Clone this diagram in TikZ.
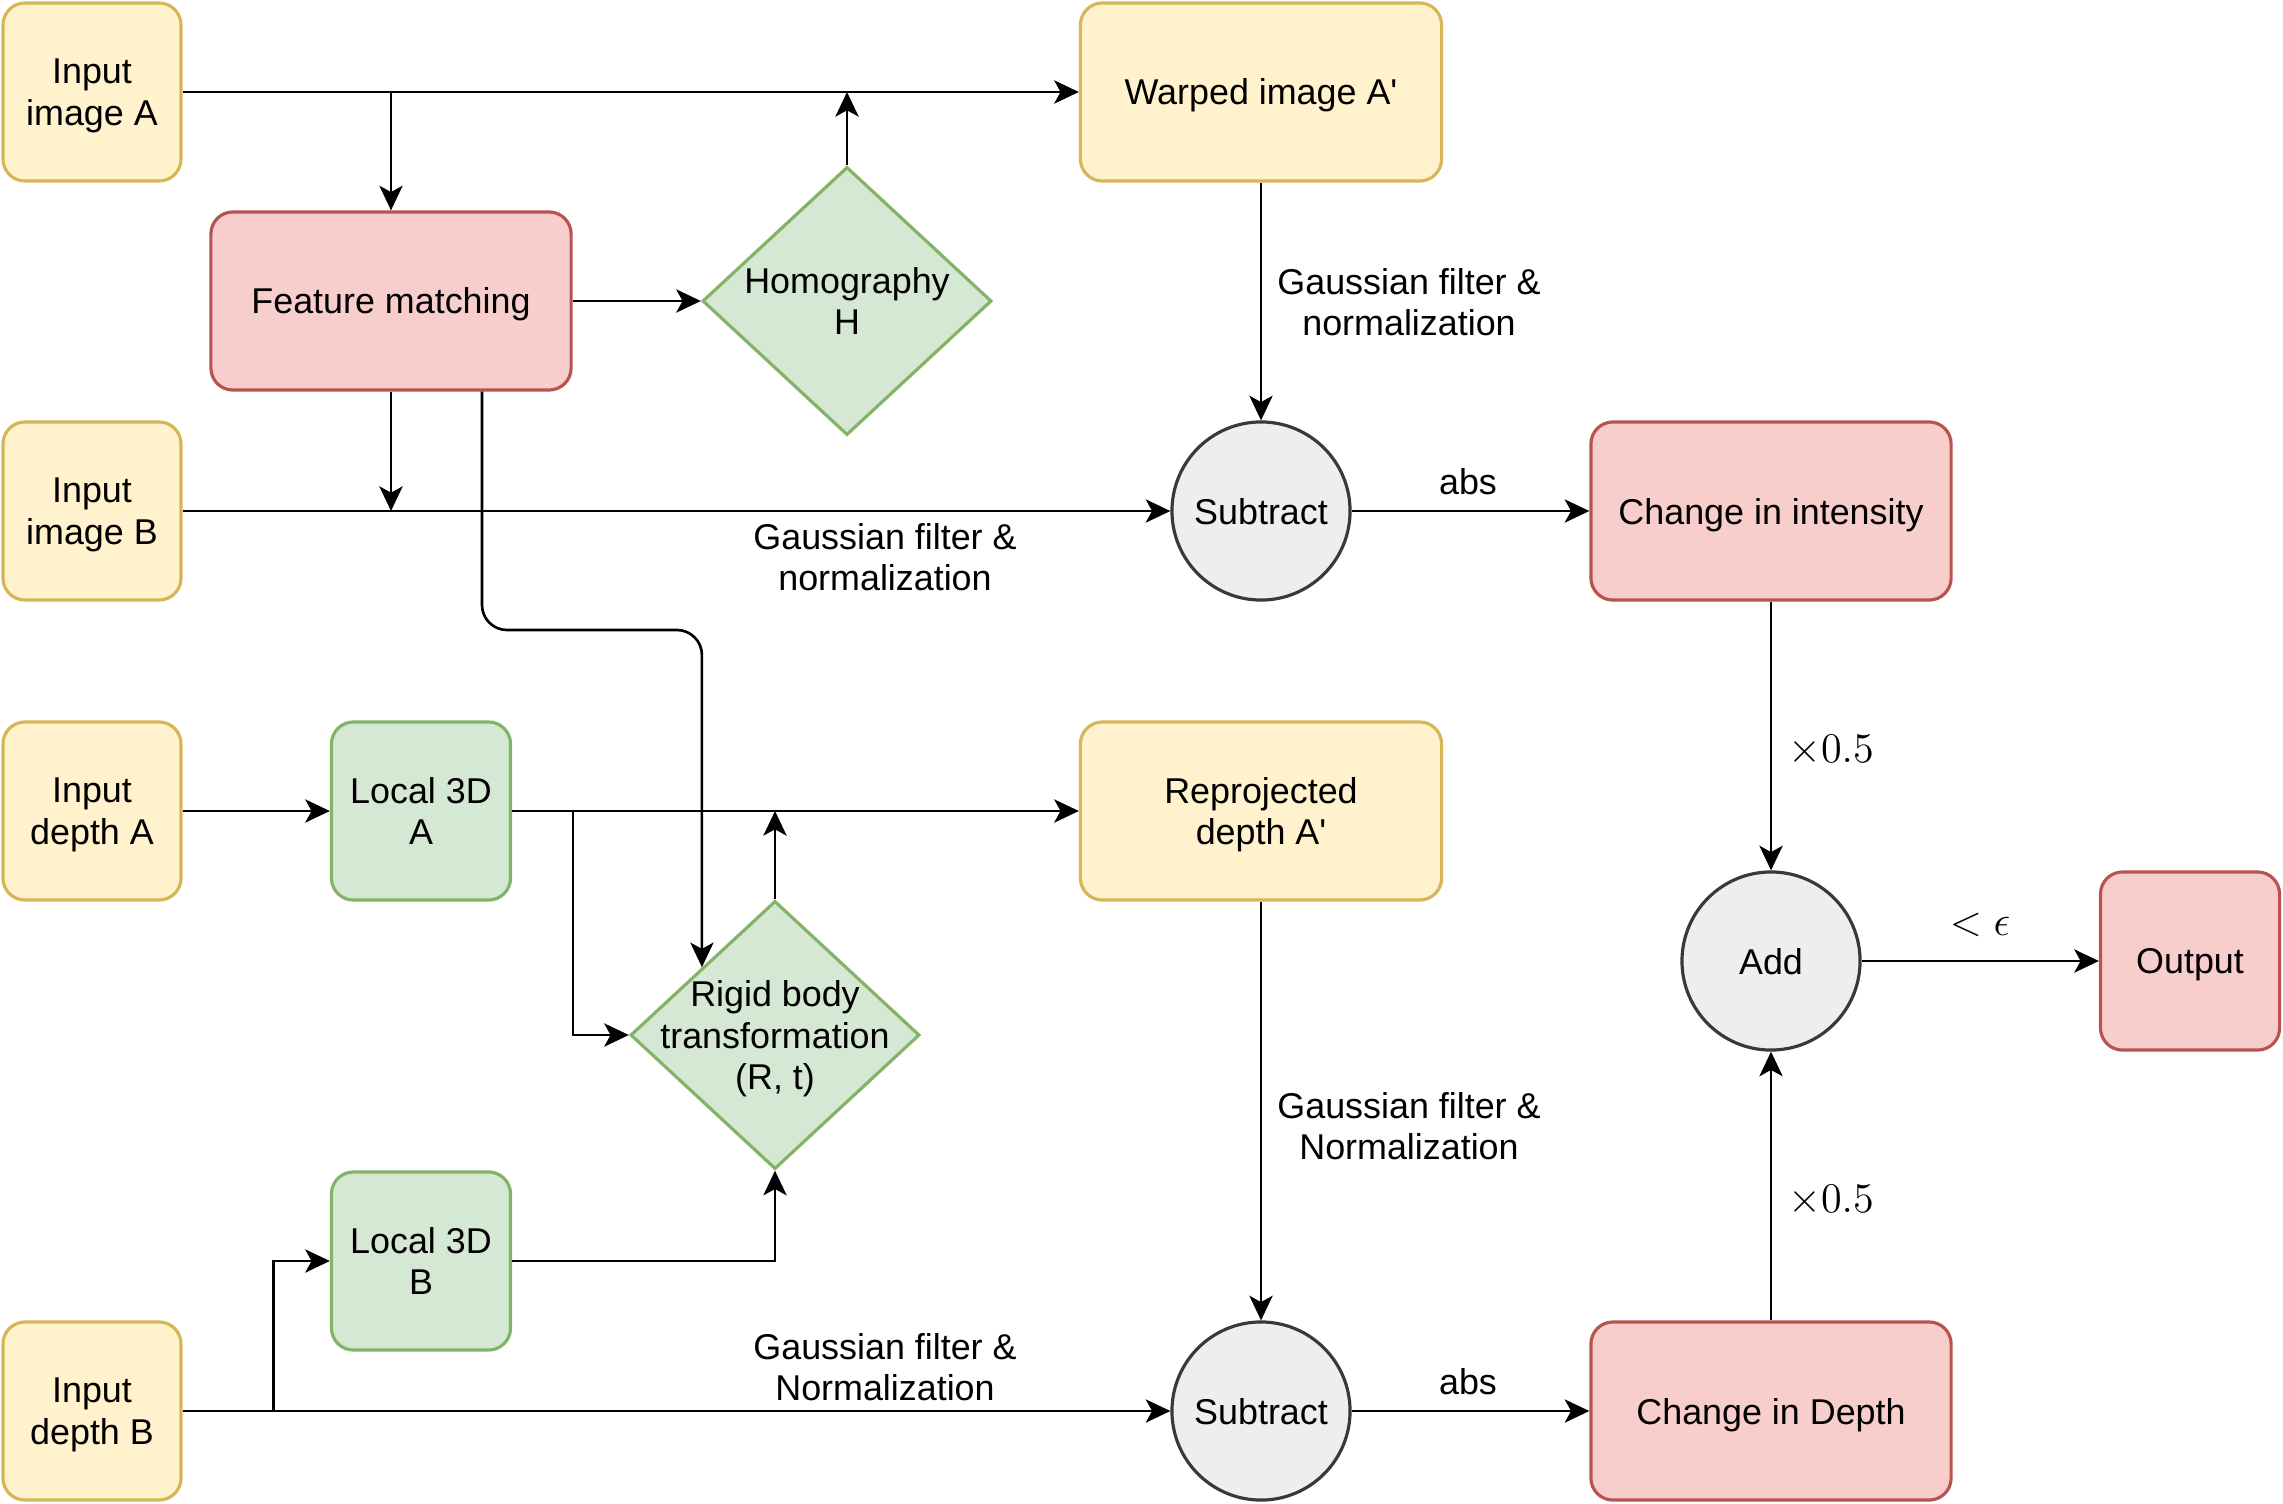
\documentclass[tikz,border=0pt]{standalone}
\usepackage{fontspec}
\setmainfont{Liberation Sans}[Ligatures=TeXOff]
\usetikzlibrary{arrows.meta,shapes.geometric,calc}

\definecolor{yfill}{HTML}{FFF2CC}\definecolor{ydraw}{HTML}{D6B656}
\definecolor{rfill}{HTML}{F8CECC}\definecolor{rdraw}{HTML}{B85450}
\definecolor{gfill}{HTML}{D5E8D4}\definecolor{gdraw}{HTML}{82B366}
\definecolor{cfill}{HTML}{EEEEEE}\definecolor{cdraw}{HTML}{36393D}

\tikzset{
  base/.style={font=\fontsize{10.2}{11.8}\selectfont, align=center, line width=0.9pt, inner sep=2pt, text depth=0pt},
  boxstyle/.style={base, rectangle, rounded corners=0.22cm, minimum height=1.78cm},
  ybox/.style={boxstyle, fill=yfill, draw=ydraw},
  rbox/.style={boxstyle, fill=rfill, draw=rdraw},
  gbox/.style={boxstyle, fill=gfill, draw=gdraw},
  opcircle/.style={base, circle, fill=cfill, draw=cdraw, minimum size=1.78cm},
  decision/.style={base, diamond, fill=gfill, draw=gdraw, minimum width=2.89cm, minimum height=2.68cm, inner sep=0pt},
  arr/.style={line width=0.75pt, -{Stealth[length=7pt,width=6.6pt,inset=1.8pt]}},
  lbl/.style={font=\fontsize{10.2}{11.8}\selectfont, align=center, inner sep=0pt},
  mlbl/.style={font=\fontsize{11.7}{14}\selectfont, inner sep=0pt}
}

\begin{document}
\begin{tikzpicture}[x=0.01cm, y=-0.01cm]
\useasboundingbox (0,0) rectangle (2283,1503);

% input boxes
\node[ybox, minimum width=1.78cm] (inA) at (92,92)   {Input\\image A};
\node[ybox, minimum width=1.78cm] (inB) at (92,511)  {Input\\image B};
\node[ybox, minimum width=1.78cm] (dA)  at (92,811)  {Input\\depth A};
\node[ybox, minimum width=1.78cm] (dB)  at (92,1411) {Input\\depth B};

% image branch
\node[rbox, minimum width=3.6cm] (fm) at (391,301) {Feature matching};
\node[decision, label={[lbl, text depth=0pt]center:Homography\\H}] (hom) at (847,301) {};
\node[ybox, minimum width=3.61cm] (warp) at (1261,92) {Warped image A'};
\node[opcircle] (sub1) at (1261,511) {Subtract};
\node[rbox, minimum width=3.6cm] (cint) at (1771,511) {Change in intensity};

% depth branch
\node[gbox, minimum width=1.79cm] (l3a) at (421,811)  {Local 3D\\A};
\node[gbox, minimum width=1.79cm] (l3b) at (421,1261) {Local 3D\\B};
\node[decision, label={[lbl, text depth=0pt]center:Rigid body\\transformation\\(R, t)}] (rig) at (775,1035) {};
\node[ybox, minimum width=3.61cm] (rep) at (1261,811) {Reprojected\\depth A'};
\node[opcircle] (sub2) at (1261,1411) {Subtract};
\node[rbox, minimum width=3.6cm] (cdep) at (1771,1411) {Change in Depth};

% combination
\node[opcircle] (add) at (1771,961) {Add};
\node[rbox, minimum width=1.79cm] (out) at (2190,961) {Output};

% connectors: image branch
\draw[arr] (inA.east) -- (warp.west);
\draw[arr] (fm.north |- inA.east) -- (fm.north);
\draw[arr] (hom.north) -- (hom.north |- inA.east);
\draw[arr] (fm.east) -- (hom.west);
\draw[arr] (fm.south) -- (fm.south |- inB.east);
\coordinate (fmout) at ($(fm.south)+(91,0)$);
\coordinate (bendy) at (0,630);
\draw[arr, rounded corners=0.25cm] (fmout) -- (fmout |- bendy) -| (rig.north west);
\draw[arr] (inB.east) -- (sub1.west);
\draw[arr] (warp.south) -- (sub1.north);
\draw[arr] (sub1.east) -- (cint.west);
\draw[arr] (cint.south) -- (add.north);

% connectors: depth branch
\draw[arr] (dA.east) -- (l3a.west);
\draw[arr] (l3a.east) -- (rep.west);
\coordinate (l3aout) at ($(l3a.east)+(61,0)$);
\draw[arr] (l3aout) |- (rig.west);
\draw[arr] (rig.north) -- (rig.north |- l3a.east);
\draw[arr] (l3b.east) -| (rig.south);
\draw[arr] (dB.east) -- (sub2.west);
\coordinate (dBout) at ($(dB.east)+(91,0)$);
\draw[arr] (dBout) |- (l3b.west);
\draw[arr] (rep.south) -- (sub2.north);
\draw[arr] (sub2.east) -- (cdep.west);
\draw[arr] (cdep.north) -- (add.south);
\draw[arr] (add.east) -- (out.west);

% connector labels
\node[lbl] (g1) at (885,557)  {Gaussian filter \&\\normalization};
\node[lbl] (g2) at (1409,302) {Gaussian filter \&\\normalization};
\node[lbl] (g3) at (885,1367) {Gaussian filter \&\\Normalization};
\node[lbl] (g4) at (1409,1126) {Gaussian filter \&\\Normalization};
\node[lbl] (abs1) at (1468,482)  {abs};
\node[lbl] (abs2) at (1468,1382) {abs};
\node[mlbl] (w1) at (1831,751)  {$\times 0.5$};
\node[mlbl] (w2) at (1831,1201) {$\times 0.5$};
\node[mlbl] (eps) at (1980,925) {$<\epsilon$};
\end{tikzpicture}
\end{document}
